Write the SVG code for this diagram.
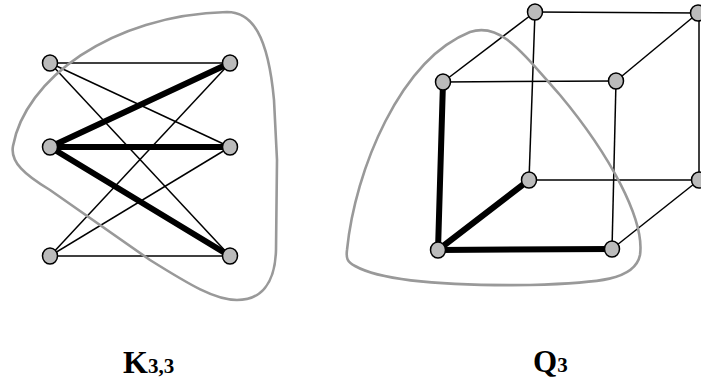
<svg xmlns="http://www.w3.org/2000/svg" width="701" height="382" viewBox="0 0 701 382">
<style>
.thin{stroke:#000;stroke-width:1.5;fill:none}
.thick{stroke:#000;stroke-width:6;fill:none;stroke-linecap:round}
.blob{stroke:#999;stroke-width:2.6;fill:none}
.node ellipse{fill:#bbb;stroke:#000;stroke-width:1.5}
.lbl{font-family:"Liberation Serif",serif;fill:#000;font-weight:bold}
</style>
<rect width="701" height="382" fill="#fff"/>
<g id="connectors">
<line class="thin" x1="50" y1="63" x2="230" y2="63"/>
<line class="thin" x1="50" y1="63" x2="230" y2="147"/>
<line class="thin" x1="50" y1="63" x2="230" y2="256"/>
<line class="thin" x1="50" y1="256" x2="230" y2="63"/>
<line class="thin" x1="50" y1="256" x2="230" y2="147"/>
<line class="thin" x1="50" y1="256" x2="230" y2="256"/>
<line class="thick" x1="50" y1="147" x2="230" y2="63"/>
<line class="thick" x1="50" y1="147" x2="230" y2="147"/>
<line class="thick" x1="50" y1="147" x2="230" y2="256"/>
<line class="thin" x1="443" y1="82" x2="535" y2="12"/>
<line class="thin" x1="535" y1="12" x2="698" y2="13"/>
<line class="thin" x1="443" y1="82" x2="616" y2="81"/>
<line class="thin" x1="616" y1="81" x2="698" y2="13"/>
<line class="thin" x1="535" y1="12" x2="529" y2="180"/>
<line class="thin" x1="699" y1="13" x2="699" y2="180"/>
<line class="thin" x1="616" y1="81" x2="612" y2="249"/>
<line class="thin" x1="529" y1="180" x2="699" y2="180"/>
<line class="thin" x1="612" y1="249" x2="699" y2="180"/>
<line class="thick" x1="443" y1="82" x2="438" y2="250"/>
<line class="thick" x1="438" y1="250" x2="529" y2="180"/>
<line class="thick" x1="438" y1="250" x2="612" y2="249"/>
</g>
<g id="blob-k33">
<path class="blob" d="M 13,146 C 25,80 110,15 227,12 C 252,12 268,35 274,100 L 277,160 L 276,250 C 275,285 260,300 237,300 C 215,300 190,285 150,260 L 50,190 C 25,175 10,162 13,146 Z"/>
</g>
<g id="blob-q3">
<path class="blob" d="M 347,250 C 355,170 400,60 470,32 C 500,22 520,50 560,95 C 610,155 645,220 640,255 C 635,280 600,283 530,285 C 440,286 380,280 355,266 C 347,262 346,258 347,250 Z"/>
</g>
<g id="k-a1" class="node"><ellipse cx="50" cy="63" rx="7.5" ry="8"/></g>
<g id="k-a2" class="node"><ellipse cx="50" cy="147" rx="7.5" ry="8"/></g>
<g id="k-a3" class="node"><ellipse cx="50" cy="256" rx="7.5" ry="8"/></g>
<g id="k-b1" class="node"><ellipse cx="230" cy="63" rx="7.5" ry="8"/></g>
<g id="k-b2" class="node"><ellipse cx="230" cy="147" rx="7.5" ry="8"/></g>
<g id="k-b3" class="node"><ellipse cx="230" cy="256" rx="7.5" ry="8"/></g>
<g id="q-btl" class="node"><ellipse cx="535" cy="12" rx="7.5" ry="8"/></g>
<g id="q-btr" class="node"><ellipse cx="698" cy="13" rx="7.5" ry="8"/></g>
<g id="q-ftl" class="node"><ellipse cx="443" cy="82" rx="7.5" ry="8"/></g>
<g id="q-ftr" class="node"><ellipse cx="616" cy="81" rx="7.5" ry="8"/></g>
<g id="q-bbl" class="node"><ellipse cx="529" cy="180" rx="7.5" ry="8"/></g>
<g id="q-bbr" class="node"><ellipse cx="699" cy="180" rx="7.5" ry="8"/></g>
<g id="q-fbl" class="node"><ellipse cx="438" cy="250" rx="7.5" ry="8"/></g>
<g id="q-fbr" class="node"><ellipse cx="612" cy="249" rx="7.5" ry="8"/></g>
<g id="labels">
<text class="lbl" x="123" y="373" font-size="32">K<tspan font-size="21">3,3</tspan></text>
<text class="lbl" x="533" y="372" font-size="31">Q<tspan font-size="21">3</tspan></text>
</g>
</svg>
